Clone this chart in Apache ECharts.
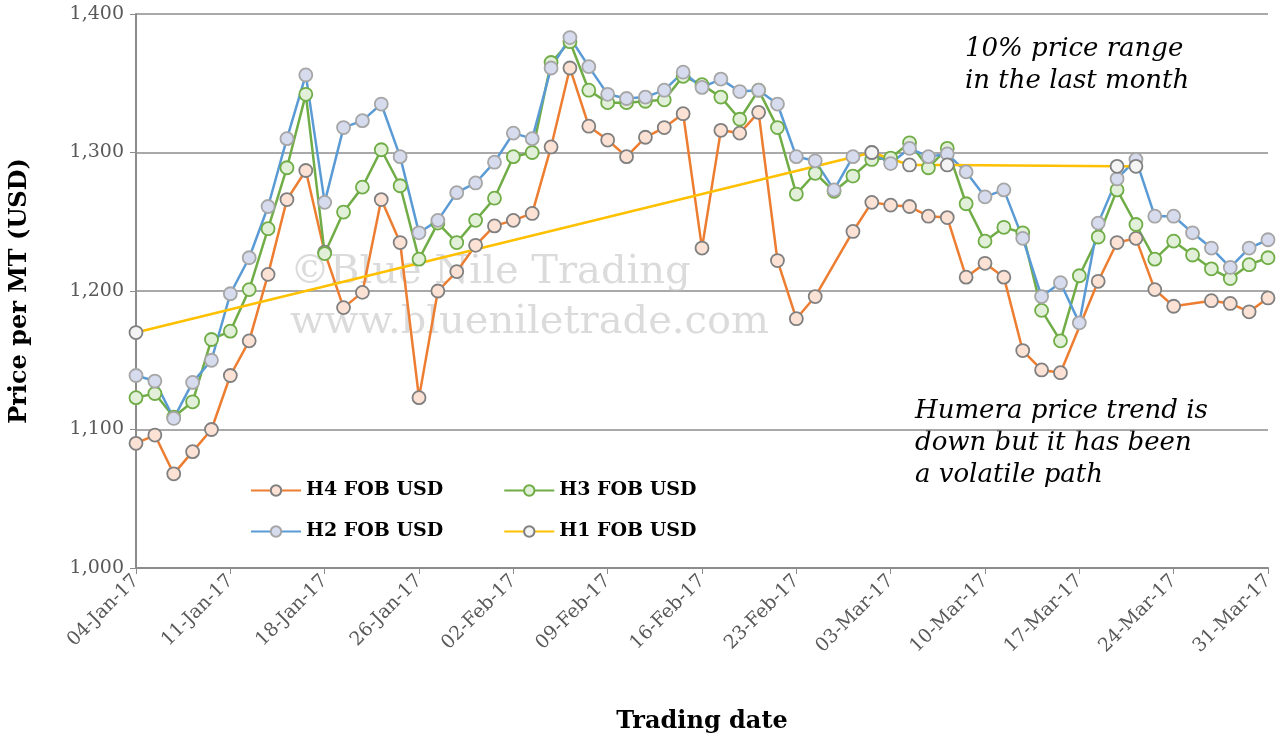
<!DOCTYPE html>
<html>
<head>
<meta charset="utf-8">
<script src="https://cdn.jsdelivr.net/npm/echarts@6/dist/echarts.min.js"></script>
<style>html,body{margin:0;padding:0;background:#fff}#chart{width:1278px;height:744px}</style>
</head>
<body>
<div id="chart"></div>
<script>
const dates = [
  "04-Jan-17","05-Jan-17","06-Jan-17","09-Jan-17","10-Jan-17","11-Jan-17","12-Jan-17","13-Jan-17","16-Jan-17","17-Jan-17",
  "18-Jan-17","20-Jan-17","23-Jan-17","24-Jan-17","25-Jan-17","26-Jan-17","27-Jan-17","30-Jan-17","31-Jan-17","01-Feb-17",
  "02-Feb-17","03-Feb-17","06-Feb-17","07-Feb-17","08-Feb-17","09-Feb-17","10-Feb-17","13-Feb-17","14-Feb-17","15-Feb-17",
  "16-Feb-17","17-Feb-17","20-Feb-17","21-Feb-17","22-Feb-17","23-Feb-17","24-Feb-17","27-Feb-17","28-Feb-17","01-Mar-17",
  "03-Mar-17","06-Mar-17","07-Mar-17","08-Mar-17","09-Mar-17","10-Mar-17","13-Mar-17","14-Mar-17","15-Mar-17","16-Mar-17",
  "17-Mar-17","20-Mar-17","21-Mar-17","22-Mar-17","23-Mar-17","24-Mar-17","27-Mar-17","28-Mar-17","29-Mar-17","30-Mar-17",
  "31-Mar-17"
];

const h4 = [1090,1096,1068,1084,1100,1139,1164,1212,1266,1287,
  1228,1188,1199,1266,1235,1123,1200,1214,1233,1247,
  1251,1256,1304,1361,1319,1309,1297,1311,1318,1328,
  1231,1316,1314,1329,1222,1180,1196,null,1243,1264,
  1262,1261,1254,1253,1210,1220,1210,1157,1143,1141,
  null,1207,1235,1238,1201,1189,null,1193,1191,1185,1195];

const h3 = [1123,1126,1109,1120,1165,1171,1201,1245,1289,1342,
  1227,1257,1275,1302,1276,1223,1249,1235,1251,1267,
  1297,1300,1365,1380,1345,1336,1336,1337,1338,1355,
  1349,1340,1324,1345,1318,1270,1285,1272,1283,1295,
  1296,1307,1289,1303,1263,1236,1246,1242,1186,1164,
  1211,1239,1273,1248,1223,1236,1226,1216,1209,1219,1224];

const h2 = [1139,1135,1108,1134,1150,1198,1224,1261,1310,1356,
  1264,1318,1323,1335,1297,1242,1251,1271,1278,1293,
  1314,1310,1361,1383,1362,1342,1339,1340,1345,1358,
  1347,1353,1344,1345,1335,1297,1294,1273,1297,1300,
  1292,1303,1297,1299,1286,1268,1273,1238,1196,1206,
  1177,1249,1281,1295,1254,1254,1242,1231,1217,1231,1237];

const h1 = [1170,null,null,null,null,null,null,null,null,null,
  null,null,null,null,null,null,null,null,null,null,
  null,null,null,null,null,null,null,null,null,null,
  null,null,null,null,null,null,null,null,null,1300,
  null,1291,null,1291,null,null,null,null,null,null,
  null,null,1290,1290,null,null,null,null,null,null,null];

const yTicks = [1000, 1100, 1200, 1300, 1400];

const serif = "DejaVu Serif";

function mkSeries(name, data, line, fill, border) {
  return {
    name, type: "line", data, connectNulls: true,
    symbol: "circle", symbolSize: 13, showAllSymbol: true,
    lineStyle: { color: line, width: 2.5 },
    itemStyle: { color: fill, borderColor: border, borderWidth: 1.8 },
    emphasis: { disabled: true },
    z: 3
  };
}

const chart = echarts.init(document.getElementById("chart"));
chart.setOption({
  animation: false,
  grid: { left: 129, right: 10, top: 14, bottom: 176 },
  legend: [
    { data: ["H4 FOB USD", "H3 FOB USD"], left: 245, top: 476, itemGap: 60,
      itemWidth: 50, itemHeight: 13,
      textStyle: { fontFamily: serif, fontWeight: "bold", fontSize: 19, color: "#000" } },
    { data: ["H2 FOB USD", "H1 FOB USD"], left: 245, top: 517, itemGap: 60,
      itemWidth: 50, itemHeight: 13,
      textStyle: { fontFamily: serif, fontWeight: "bold", fontSize: 19, color: "#000" } }
  ],
  xAxis: {
    type: "category", data: dates, boundaryGap: false,
    name: "Trading date", nameLocation: "middle", nameGap: 142,
    nameTextStyle: { fontFamily: serif, fontWeight: "bold", fontSize: 24, color: "#000" },
    axisLine: { lineStyle: { color: "#8c8c8c", width: 2 } },
    axisTick: { show: true, interval: 4, length: 6, lineStyle: { color: "#8c8c8c" } },
    axisLabel: { interval: 4, rotate: 45, fontFamily: serif, fontSize: 19, color: "#595959", margin: 10 }
  },
  yAxis: {
    type: "value", min: yTicks[0], max: yTicks[yTicks.length - 1], interval: 100,
    name: "Price per MT (USD)", nameLocation: "middle", nameGap: 104,
    nameTextStyle: { fontFamily: serif, fontWeight: "bold", fontSize: 24, color: "#000" },
    axisLine: { show: true, lineStyle: { color: "#8c8c8c", width: 2 } },
    axisTick: { show: true, length: 6, lineStyle: { color: "#8c8c8c" } },
    splitLine: { lineStyle: { color: "#8c8c8c", width: 1.5 } },
    axisLabel: { fontFamily: serif, fontSize: 19, color: "#595959", margin: 12,
      formatter: v => v.toLocaleString("en-US") }
  },
  graphic: [
    { type: "text", left: 290, top: 248, z: 1,
      style: { text: "©Blue Nile Trading\nwww.bluenilenetrade.com".replace("nilene", "nile"), font: "40px " + serif, fill: "rgba(190,190,190,0.55)", lineHeight: 50 } },
    { type: "text", left: 965, top: 33,
      style: { text: "10% price range\nin the last month", font: "italic 26px " + serif, fill: "#000", lineHeight: 32 } },
    { type: "text", left: 915, top: 395,
      style: { text: "Humera price trend is\ndown but it has been\na volatile path", font: "italic 26px " + serif, fill: "#000", lineHeight: 32 } }
  ],
  series: [
    mkSeries("H4 FOB USD", h4, "#ED7D31", "#FBE2D5", "#808080"),
    mkSeries("H3 FOB USD", h3, "#70AD47", "#E2F0D9", "#70AD47"),
    mkSeries("H2 FOB USD", h2, "#5B9BD5", "#D6DCEE", "#A6A6A6"),
    mkSeries("H1 FOB USD", h1, "#FFC000", "#F4F4F4", "#808080")
  ]
});
window.addEventListener("resize", () => chart.resize());
</script>
</body>
</html>
